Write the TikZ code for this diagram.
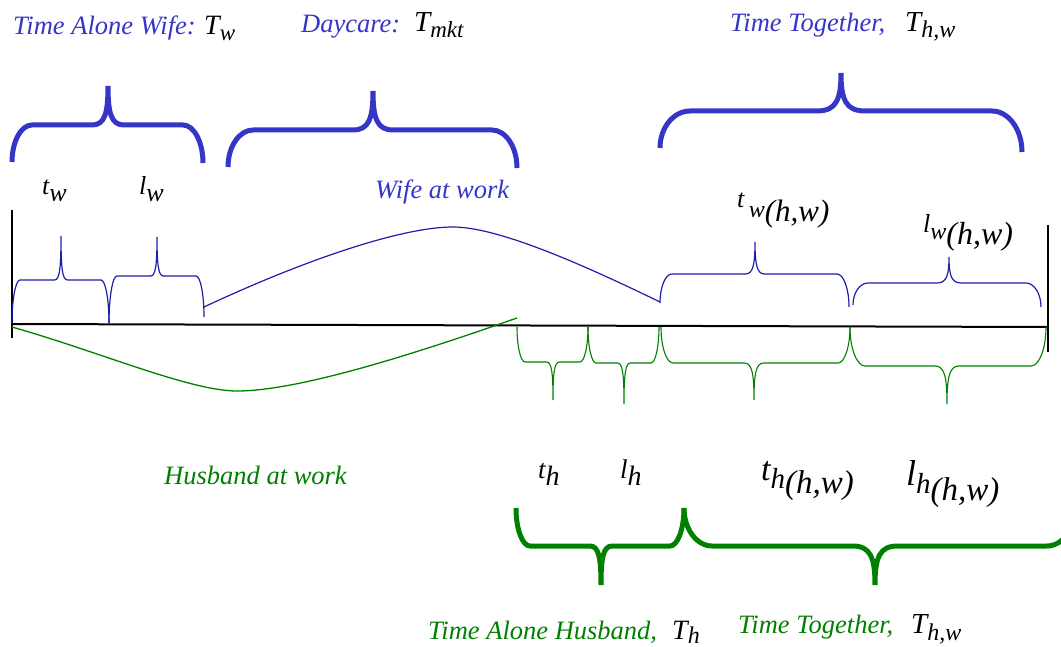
\documentclass[tikz,border=0pt]{standalone}
\usepackage{fontspec}
\setmainfont{Liberation Serif}
\newfontfamily\tms{Liberation Serif}
\definecolor{tblue}{RGB}{53,53,200}
\definecolor{dblue}{RGB}{30,30,170}
\definecolor{tgreen}{RGB}{0,128,0}
\newcommand\fs[1]{\fontsize{#1}{#1}\selectfont}
\newcommand\dn[3]{\raisebox{-#2pt}{\fs{#1}#3}}
% brace: #1 style, (#2,#3) left end, (#4,#5) right end, #6 flat y, (#7,#8) tip, #9 corner width
\newcommand\cbrace[9]{%
 \pgfmathsetmacro\bA{#2+#9}%
 \pgfmathsetmacro\bB{#4-#9}%
 \pgfmathsetmacro\bd{0.8*#9}%
 \pgfmathsetmacro\bC{#7-\bd}%
 \pgfmathsetmacro\bD{#7+\bd}%
 \draw[#1] (#2,#3) .. controls (#2,{#3+0.55*(#6-#3)}) and ({#2+0.45*#9},#6) .. (\bA,#6)
   -- (\bC,#6) .. controls ({#7-0.2*\bd},#6) and (#7,{#6+0.3*(#8-#6)}) .. (#7,#8)
   .. controls (#7,{#6+0.3*(#8-#6)}) and ({#7+0.2*\bd},#6) .. (\bD,#6)
   -- (\bB,#6) .. controls ({#4-0.45*#9},#6) and (#4,{#5+0.55*(#6-#5)}) .. (#4,#5);
}
\tikzset{
  thickb/.style={draw=tblue,line width=5pt},
  thickg/.style={draw=tgreen,line width=5pt},
  thinb/.style={draw=dblue,line width=1.2pt},
  thing/.style={draw=tgreen,line width=1.1pt},
  axisline/.style={draw=black,line width=2pt},
  lbl/.style={inner sep=0pt,anchor=base west,font=\tms\itshape},
}
\begin{document}
\begin{tikzpicture}[x=1pt,y=-1pt]
\useasboundingbox (0,0) rectangle (1061,647);
\clip (0,0) rectangle (1061,647);
% axis and end bars
\coordinate (a0) at (12,324);
\coordinate (a1) at (1048,327);
\coordinate (b0t) at (12,210);
\coordinate (b0b) at (12,338);
\coordinate (b1t) at (1048,225);
\coordinate (b1b) at (1048,352);
\draw[axisline] (a0) -- (a1);
\draw[axisline] (b0t) -- (b0b);
\draw[axisline] (b1t) -- (b1b);
% thick blue braces
\cbrace{thickb}{12}{162}{203}{163}{125}{108}{86}{20}
\cbrace{thickb}{228}{167}{517}{168}{130}{373}{91}{25}
\cbrace{thickb}{660}{148}{1022}{152}{111}{841}{73}{30}
% thin blue braces
\cbrace{thinb}{12}{323}{109}{323}{280}{61}{236}{8}
\cbrace{thinb}{109}{323}{204}{317}{276}{157}{237}{8}
\cbrace{thinb}{660}{303}{849}{307}{274}{755}{242}{12}
\cbrace{thinb}{853}{305}{1041}{307}{283}{949}{257}{15}
% thin green braces
\cbrace{thing}{517}{327}{588}{327}{362}{553}{400}{8}
\cbrace{thing}{588}{327}{659}{327}{363}{624}{404}{8}
\cbrace{thing}{661}{327}{850}{327}{363}{754}{400}{12}
\cbrace{thing}{850}{327}{1046}{327}{366}{947}{404}{15}
% thick green braces
\cbrace{thickg}{516}{508}{684}{508}{546}{601}{585}{14}
\cbrace{thickg}{684}{508}{1075}{508}{546}{875}{585}{28}
% work curves
\coordinate (ws) at (204,307);
\coordinate (wp) at (453,227);
\coordinate (we) at (660,302);
\draw[thinb] (ws) .. controls (300,262) and (400,227) .. (wp)
             .. controls (500,227) and (590,268) .. (we);
\coordinate (hs) at (12,327);
\coordinate (hm) at (237,391);
\coordinate (he) at (517,318);
\draw[thing,line width=1.3pt] (hs) .. controls (100,352) and (190,391) .. (hm)
             .. controls (300,391) and (420,352) .. (he);
% top titles
\node[lbl,text=tblue] (ttaw) at (13,35) {\fs{26.5}Time Alone Wife:};
\node[lbl] (ttw) at (204,35) {\fs{28}T\dn{23}{6}{w}};
\node[lbl,text=tblue] (tday) at (301,33) {\fs{26.5}Daycare:};
\node[lbl] (ttmkt) at (414,32) {\fs{29}T\dn{23}{6}{mkt}};
\node[lbl,text=tblue] (ttog) at (730,32) {\fs{26.5}Time Together,};
\node[lbl] (tthw) at (905,32) {\fs{29}T\dn{24}{6}{h,w}};
% upper labels
\node[lbl] (ltw) at (42,195) {\fs{26}t\dn{26}{7}{w}};
\node[lbl] (llw) at (139,195) {\fs{26}l\dn{26}{7}{w}};
\node[lbl,text=tblue] (lwork) at (375,199) {\fs{26.5}Wife at work};
\node[lbl] (ltwhw) at (737,208) {\fs{26}t\,\dn{24}{10}{w}\dn{31}{14}{(h,w)}};
\node[lbl] (llwhw) at (923,233) {\fs{26}l\dn{24}{7}{w}\dn{32}{12}{(h,w)}};
% lower labels
\node[lbl,text=tgreen] (lhwork) at (164,484) {\fs{26.5}Husband at work};
\node[lbl] (lth) at (538,478) {\fs{27}t\dn{28}{7}{h}};
\node[lbl] (llh) at (620,478) {\fs{27}l\dn{28}{7}{h}};
\node[lbl] (lthhw) at (761,480) {\fs{34}t\dn{29}{8}{h}\dn{33}{13}{(h,w)}};
\node[lbl] (llhhw) at (906,485) {\fs{36}l\dn{29}{8}{h}\dn{33}{15}{(h,w)}};
% bottom titles
\node[lbl,text=tgreen] (btah) at (428,639) {\fs{26.5}Time Alone Husband,};
\node[lbl] (bth) at (672,639) {\fs{28}T\dn{24}{4}{h}};
\node[lbl,text=tgreen] (btog) at (738,633) {\fs{26.5}Time Together,};
\node[lbl] (bthw) at (911,633) {\fs{29}T\dn{24}{7}{h,w}};
\end{tikzpicture}
\end{document}
